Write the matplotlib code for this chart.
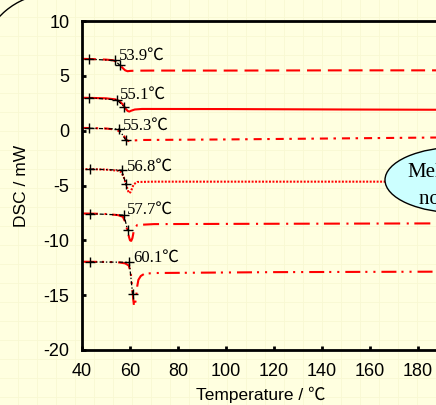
import numpy as np
import matplotlib
matplotlib.use("Agg")
import matplotlib.pyplot as plt
from matplotlib.lines import Line2D
from matplotlib.patches import Arc, Ellipse

plt.rcParams['axes.unicode_minus'] = False
plt.rcParams['lines.scale_dashes'] = False

# ---------------- data ----------------
onset_labels = ["53.9℃", "55.1℃", "55.3℃", "56.8℃", "57.7℃", "60.1℃"]

c1_x = [40, 45, 50, 53, 55, 56, 57, 58, 59, 60, 62, 70, 100, 150, 200]
c1_y = [6.55, 6.52, 6.48, 6.42, 6.2, 5.95, 5.7, 5.5, 5.42, 5.45, 5.47, 5.48, 5.48, 5.5, 5.5]

c2_x = [40, 45, 50, 54, 55.5, 57, 58, 59, 59.7, 60.5, 62, 65, 100, 150, 200]
c2_y = [3.0, 2.98, 2.95, 2.85, 2.7, 2.4, 2.05, 1.8, 1.74, 1.82, 1.93, 1.98, 1.97, 1.93, 1.9]

c3_x = [40, 45, 50, 54, 56, 57.5, 58.5, 59.5, 61, 65, 100, 150, 200]
c3_y = [0.25, 0.23, 0.2, 0.1, -0.1, -0.5, -0.85, -0.95, -0.9, -0.85, -0.8, -0.7, -0.6]

c4_x = [40, 45, 50, 55, 56.5, 57.5, 58.5, 59.3, 59.7, 60.2, 60.8, 61.5, 63, 70, 100, 200]
c4_y = [-3.5, -3.52, -3.55, -3.65, -3.8, -4.3, -5.0, -5.55, -5.7, -5.6, -5.3, -4.9, -4.68, -4.65, -4.65, -4.65]

c5_x = [40, 45, 50, 55, 57, 58, 59, 59.6, 60, 60.5, 61, 61.7, 63, 70, 100, 200]
c5_y = [-7.55, -7.57, -7.6, -7.7, -7.85, -8.3, -9.2, -9.7, -10.0, -10.05, -9.8, -9.0, -8.6, -8.52, -8.5, -8.45]

c6_x = [40, 45, 50, 55, 58, 59.5, 60.3, 61, 61.4, 61.7, 62, 62.5, 63, 63.5, 64.5, 66, 70, 120, 200]
c6_y = [-11.95, -11.96, -11.97, -12.0, -12.1, -12.3, -13.0, -14.5, -15.5, -16.0, -15.9, -15.3, -14.2, -13.6, -13.25, -13.05, -12.98, -12.9, -12.85]

t1_x = [43.0, 53.75, 55.8];  t1_y = [6.52, 6.4, 5.95]
t2_x = [43.0, 54.6, 57.5];   t2_y = [3.0, 2.8, 2.19]
t3_x = [43.0, 55.4, 58.2];   t3_y = [0.22, 0.15, -0.85]
t4_x = [43.3, 56.5, 58.3];   t4_y = [-3.5, -3.6, -4.86]
t5_x = [43.3, 57.5, 59.0];   t5_y = [-7.57, -7.7, -9.1]
t6_x = [43.3, 59.7, 61.1];   t6_y = [-11.97, -12.0, -14.9]

label_x = [55.4, 55.8, 57.0, 58.6, 58.9, 61.4]
label_y = [6.44, 2.89, 0.06, -3.65, -7.62, -11.97]

x_ticks = [40, 60, 80, 100, 120, 140, 160, 180]
y_ticks = [-20, -15, -10, -5, 0, 5, 10]

curves = [(c1_x, c1_y), (c2_x, c2_y), (c3_x, c3_y), (c4_x, c4_y), (c5_x, c5_y), (c6_x, c6_y)]
tangents = [(t1_x, t1_y), (t2_x, t2_y), (t3_x, t3_y), (t4_x, t4_y), (t5_x, t5_y), (t6_x, t6_y)]

# ---------------- styles ----------------
dash_styles = [
    (0, (10, 5)),
    None,
    (0, (5.8, 4, 1.8, 4.3)),
    (0, (1.4, 1.1)),
    (0, (11.5, 4.7, 1.5, 4)),
    (0, (10.8, 3.6, 1.5, 4.3, 1.5, 4.3)),
]

W, H, DPI = 436, 405, 100
bg = '#FFFFE0'
fig = plt.figure(figsize=(W / DPI, H / DPI), dpi=DPI, facecolor=bg)

# faint background grid
gcol = '#F8F8D2'
for xp in np.arange(18, W, 19):
    fig.add_artist(Line2D([xp / W] * 2, [0, 1], transform=fig.transFigure, color=gcol, lw=0.6, zorder=-5))
for yp in np.arange(8, H, 19):
    fig.add_artist(Line2D([0, 1], [yp / H] * 2, transform=fig.transFigure, color=gcol, lw=0.6, zorder=-5))

# decorative arc top-left
fig.add_artist(Arc((0.53, 3.38), 1.47, 1.47, theta1=95, theta2=165,
                   transform=fig.dpi_scale_trans, color='black', lw=1.0))

ax = fig.add_axes([82 / W, (H - 350) / H, 384 / W, 329 / H])
ax.patch.set_visible(False)

for (cx, cy), ls in zip(curves, dash_styles):
    if ls is None:
        ax.plot(cx, cy, color='#FF0000', lw=1.5, solid_capstyle='butt')
    else:
        ax.plot(cx, cy, color='#FF0000', lw=1.5, linestyle=ls)

for tx, ty in tangents:
    ax.plot(tx, ty, color='black', lw=0.9, linestyle=(0, (3, 1.5, 1, 1.5)),
            marker='+', markersize=6.5, markeredgewidth=1.0)

for lx, ly, lab in zip(label_x, label_y, onset_labels):
    ax.text(lx, ly, lab, fontsize=12, va='baseline', ha='left',
            family=['Liberation Serif', 'Noto Sans CJK SC', 'DejaVu Serif'])

ax.set_xlim(40, 200)
ax.set_ylim(-20, 10)
ax.set_xticks(x_ticks)
ax.set_yticks(y_ticks)
ax.tick_params(direction='in', length=3, width=2, labelsize=13, pad=9)
for lab in ax.get_xticklabels() + ax.get_yticklabels():
    lab.set_family(['Liberation Sans', 'DejaVu Sans'])
for s in ['left', 'bottom', 'top', 'right']:
    ax.spines[s].set_linewidth(2)

ax.set_xlabel("Temperature / ℃", fontsize=12.5, family=['Liberation Sans', 'Noto Sans CJK SC', 'DejaVu Sans'])
ax.set_ylabel("DSC / mW", fontsize=12.5, family=['Liberation Sans', 'DejaVu Sans'])
ax.xaxis.set_label_coords((261 - 82) / 384, -(395 - 350) / 329)
ax.yaxis.set_label_coords((22 - 82) / 384, 0.5)
ax.xaxis.label.set_va('center')
ax.yaxis.label.set_va('center')

# callout ellipse (cropped at the right edge)
fig.add_artist(Ellipse((4.60, 2.25), 1.50, 0.66, transform=fig.dpi_scale_trans,
                       facecolor='#CCFFFF', edgecolor='black', lw=1.0, zorder=5))
fig.text(4.07, (H - 177) / DPI, "Melting", transform=fig.dpi_scale_trans, fontsize=15,
         family='Liberation Serif', ha='left', va='baseline', zorder=6)
fig.text(4.19, (H - 204) / DPI, "not clear", transform=fig.dpi_scale_trans, fontsize=15,
         family='Liberation Serif', ha='left', va='baseline', zorder=6)

fig.savefig("out.png", dpi=DPI, facecolor=bg)
